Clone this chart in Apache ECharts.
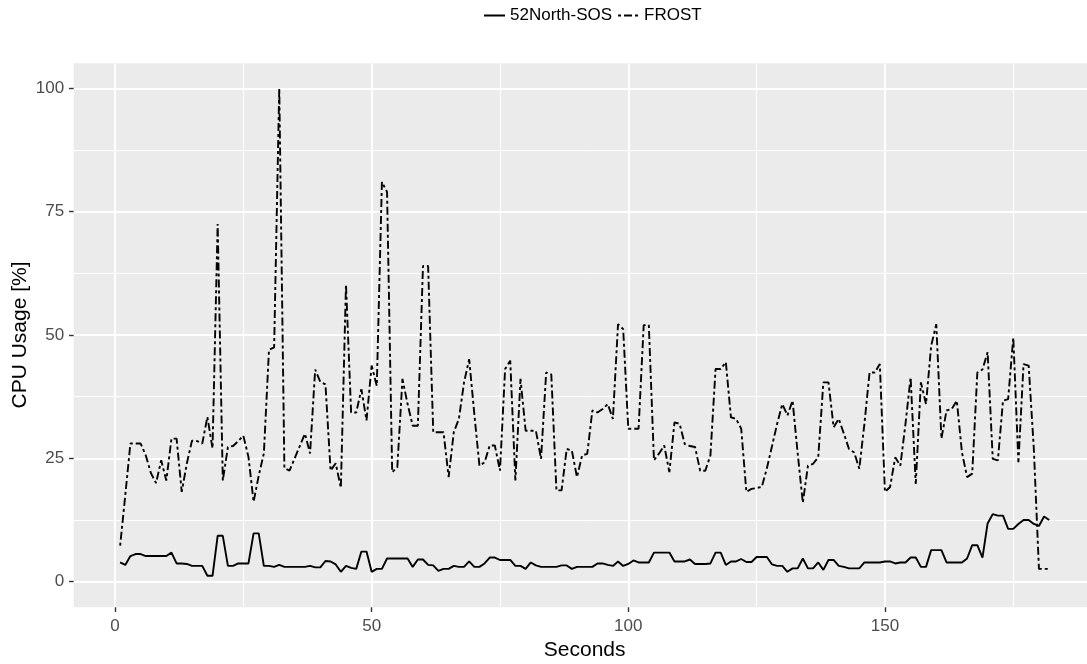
<!DOCTYPE html>
<html><head><meta charset="utf-8">
<script src="https://cdn.jsdelivr.net/npm/echarts@6/dist/echarts.min.js"></script>
<style>html,body{margin:0;padding:0;background:#fff;overflow:hidden}#c{width:1160px;height:664px}</style>
</head><body><div id="c"></div>
<script>
// ---- data ----
const seriesNames = ['52North-SOS', 'FROST'];
const sos = [
  3.9,3.4,5.2,5.6,5.6,5.2,5.2,5.2,5.2,5.2,
  5.9,3.7,3.7,3.6,3.2,3.2,3.2,1.2,1.2,9.3,
  9.3,3.2,3.2,3.7,3.7,3.7,9.8,9.8,3.2,3.2,
  3.0,3.4,3.0,3.0,3.0,3.0,3.0,3.2,2.9,2.9,
  4.2,4.1,3.5,2.0,3.2,2.8,2.6,6.1,6.1,2.0,
  2.6,2.6,4.7,4.7,4.7,4.7,4.7,3.0,4.5,4.5,
  3.4,3.3,2.2,2.6,2.6,3.2,3.0,3.0,4.1,3.0,
  3.0,3.7,4.9,4.9,4.4,4.4,4.4,3.2,3.2,2.6,
  3.9,3.3,3.0,3.0,3.0,3.0,3.3,3.3,2.6,3.0,
  3.0,3.0,3.0,3.7,3.7,3.4,3.2,4.1,3.2,3.6,
  4.3,3.9,3.9,3.9,5.9,5.9,5.9,5.9,4.1,4.1,
  4.1,4.5,3.6,3.6,3.6,3.7,5.9,5.9,3.4,4.1,
  4.1,4.6,4.0,4.0,5.0,5.0,5.0,3.5,3.2,3.2,
  2.0,2.7,2.7,4.7,2.7,2.7,3.9,2.4,4.4,4.4,
  3.2,3.0,2.7,2.7,2.7,3.9,3.9,3.9,3.9,4.1,
  4.1,3.7,3.9,3.9,4.9,4.9,3.0,3.0,6.4,6.4,
  6.4,3.9,3.9,3.9,3.9,4.7,7.4,7.4,4.9,11.8,
  13.7,13.4,13.4,10.7,10.7,11.7,12.5,12.5,11.7,11.3,
  13.2,12.5
];
const frost = [
  7.3,17.5,28,28,28,25.6,22,20,24.6,20.5,
  29,29,18.2,24,28.6,28.5,28,33.4,27,72.5,
  20.5,27.3,27.5,28.5,29.6,25.3,16.2,21.5,26,47,
  47.5,100,23,22.5,25,27.5,30,26,43,40.5,
  40,22.5,24,19,60.3,34.3,34.3,39,32.7,43.8,
  39.7,81,79,22.2,23.2,41.1,36,31.6,31.6,64,
  64,30.3,30.3,30.3,21.2,30.3,33,40.4,45.1,34,
  23.5,24.2,27.6,27.6,22.5,43.1,44.8,20.5,41.1,30.6,
  30.6,30.6,24.9,42.4,42,18.5,18.5,26.9,26.6,21.2,
  25.6,25.9,34.7,34.3,35,36,33,52.2,51.2,31,
  31,31,52,52,24.6,26,27.6,22.2,32.3,32,
  27.9,27.5,27.3,22.5,22.5,25.6,43.1,43.1,44.5,33.3,
  33,31,18.2,18.8,19,19.2,23,27.5,32,36,
  33.7,36.7,26,16,23.5,23.9,25.2,40.4,40.4,31.3,
  33,30,26.9,26.2,22.9,32,42.4,42.4,44.1,18.2,
  19.2,25.2,23.5,32,41.4,19.8,40.4,36,47.8,52.2,
  29,34.7,35,36.7,26.2,21.2,21.9,42.4,43,46.5,
  24.9,24.6,36.7,37,49.5,24.2,44.1,43.8,27,2.6,
  2.6,2.6
];
const seconds = sos.map((_, i) => i + 1);
const xTicks = [0, 50, 100, 150];
const yTicks = [0, 25, 50, 75, 100];

// ---- layout ----
const FONT = '"Liberation Sans", Arial, Helvetica, sans-serif';
const PX_X0 = 115, PPU_X = 5.133;
const X_MIN = -8.05, X_MAX = 191.05;
const PANEL_TOP = 63.3, PANEL_BOTTOM = 607.3;
const Y0_PX = 581.7, Y100_PX = 88.3;
const panelLeft = PX_X0 + X_MIN * PPU_X;
const panelWidth = (X_MAX - X_MIN) * PPU_X;
const xStep = xTicks[1] - xTicks[0];
const yStep = yTicks[1] - yTicks[0];
const xGridMax = xTicks[xTicks.length - 1] + xStep;

const tickStyle = { show: true, length: 4.7, lineStyle: { color: '#333333', width: 1.4 } };
const labelStyle = { color: '#4D4D4D', fontSize: 17, fontFamily: FONT };
const major = { show: true, lineStyle: { color: '#FFFFFF', width: 2 } };
const minor = { show: true, lineStyle: { color: '#FFFFFF', width: 1 } };
const noLine = { show: false, onZero: false };

const chart = echarts.init(document.getElementById('c'), null, { renderer: 'canvas' });
chart.setOption({
  animation: false,
  backgroundColor: '#FFFFFF',
  legend: {
    data: seriesNames,
    left: 483, top: 7, padding: 0,
    itemWidth: 21, itemHeight: 14, itemGap: 5,
    itemStyle: { opacity: 0 },
    textStyle: { color: '#000', fontSize: 17, fontFamily: FONT }
  },
  grid: [
    { left: panelLeft, top: PANEL_TOP, width: panelWidth, height: PANEL_BOTTOM - PANEL_TOP,
      show: true, backgroundColor: '#EBEBEB', borderWidth: 0, outerBoundsMode: 'none', containLabel: false },
    { left: PX_X0, top: PANEL_TOP, width: xGridMax * PPU_X, height: PANEL_BOTTOM - PANEL_TOP,
      outerBoundsMode: 'none', containLabel: false },
    { left: panelLeft, top: Y100_PX, width: panelWidth, height: Y0_PX - Y100_PX,
      outerBoundsMode: 'none', containLabel: false }
  ],
  xAxis: [
    { gridIndex: 0, type: 'value', show: false, min: 0, max: 1, axisLine: noLine },
    { gridIndex: 1, type: 'value', min: xTicks[0], max: xGridMax, interval: xStep,
      axisLine: noLine, axisTick: tickStyle,
      axisLabel: Object.assign({ margin: 10.5, showMaxLabel: false,
        formatter: v => xTicks.includes(v) ? String(v) : '' }, labelStyle),
      splitLine: major, minorTick: { show: false, splitNumber: 2 }, minorSplitLine: minor },
    { gridIndex: 2, type: 'value', min: X_MIN, max: X_MAX,
      axisLine: noLine, axisTick: { show: false }, axisLabel: { show: false },
      splitLine: { show: false },
      name: 'Seconds', nameLocation: 'middle', nameGap: 58, nameMoveOverlap: false,
      nameTextStyle: { color: '#000', fontSize: 21, fontFamily: FONT } }
  ],
  yAxis: [
    { gridIndex: 0, type: 'value', show: false, min: 0, max: 1, axisLine: noLine },
    { gridIndex: 1, type: 'value', show: false, min: 0, max: 1, axisLine: noLine },
    { gridIndex: 2, type: 'value', min: yTicks[0], max: yTicks[yTicks.length - 1], interval: yStep,
      axisLine: noLine, axisTick: tickStyle,
      axisLabel: Object.assign({ margin: 9.5 }, labelStyle),
      splitLine: major, minorTick: { show: false, splitNumber: 2 }, minorSplitLine: minor,
      name: 'CPU Usage [%]', nameLocation: 'middle', nameRotate: 90, nameGap: 43, nameMoveOverlap: false,
      nameTextStyle: { color: '#000', fontSize: 21, fontFamily: FONT } }
  ],
  series: [
    { name: seriesNames[0], type: 'line', xAxisIndex: 2, yAxisIndex: 2,
      data: seconds.map((s, i) => [s, sos[i]]),
      symbol: 'none', clip: false, color: '#000',
      lineStyle: { color: '#000', width: 1.9, type: 'solid' } },
    { name: seriesNames[1], type: 'line', xAxisIndex: 2, yAxisIndex: 2,
      data: seconds.map((s, i) => [s, frost[i]]),
      symbol: 'none', clip: false, color: '#000',
      lineStyle: { color: '#000', width: 1.9, type: [3, 3, 8, 3] } }
  ]
});
</script>
</body></html>
